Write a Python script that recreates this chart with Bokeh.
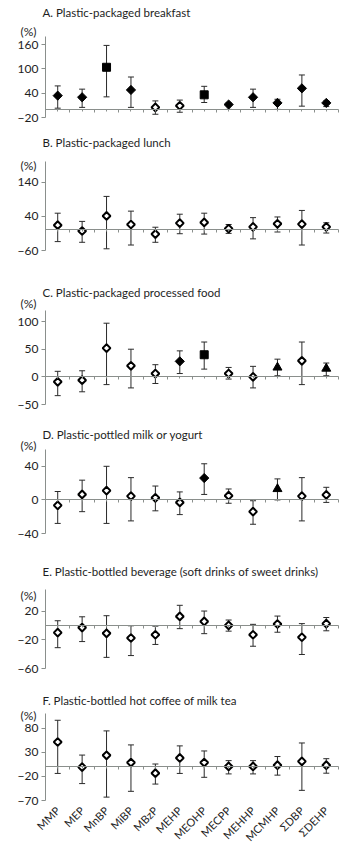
from math import pi
from bokeh.plotting import figure
from bokeh.models import ColumnDataSource, Whisker, TeeHead, FixedTicker, LinearAxis, Label, Range1d
from bokeh.layouts import column
from bokeh.embed import file_html
from bokeh.resources import INLINE

compounds = ["MMP", "MEP", "MnBP", "MiBP", "MBzP", "MEHP", "MEOHP", "MECPP",
             "MEHHP", "MCMHP", "ΣDBP", "ΣDEHP"]

panel_titles = [
    "A. Plastic-packaged breakfast",
    "B. Plastic-packaged lunch",
    "C. Plastic-packaged processed food",
    "D. Plastic-pottled milk or yogurt",
    "E. Plastic-bottled beverage (soft drinks of sweet drinks)",
    "F. Plastic-bottled hot coffee of milk tea",
]

# d = filled diamond, o = open diamond, s = filled square, t = filled triangle
A_est = [34, 30, 104, 48, 5, 9, 36, 12, 30, 16, 52, 16]
A_low = [3, 5, 31, 5, -12, -7, 17, 0, 5, 0, 8, 7]
A_up = [58, 50, 158, 80, 21, 23, 57, 16, 50, 25, 85, 21]
A_sym = ["d", "d", "s", "d", "o", "o", "s", "d", "d", "d", "d", "d"]
A_ticks = [-20, 40, 100, 160]

B_est = [14, -3, 41, 16, -12, 20, 22, 4, 9, 18, 17, 9]
B_low = [-34, -36, -55, -44, -36, -11, -12, -10, -26, -6, -44, -9]
B_up = [49, 25, 98, 55, 8, 46, 49, 16, 36, 38, 57, 21]
B_sym = ["o"] * 12
B_ticks = [-60, 40, 140]

C_est = [-9, -6, 52, 20, 6, 28, 40, 6, 0, 17, 29, 15]
C_low = [-34, -27, -14, -20, -12, 6, 14, -4, -20, 2, -14, 2]
C_up = [10, 11, 97, 50, 22, 47, 63, 17, 19, 32, 63, 25]
C_sym = ["o", "o", "o", "o", "o", "d", "s", "o", "o", "t", "o", "t"]
C_ticks = [-50, 0, 50, 100]

D_est = [-6.5, 6.5, 11, 4.5, 2.5, -3, 26, 5, -14, 13, 4.5, 6]
D_low = [-28, -14, -28, -25, -13, -17.5, 6.5, -4, -29, 0, -25, -3]
D_up = [10, 23.5, 40, 26.5, 16.5, 9.5, 43, 13, -1, 25, 26.5, 15]
D_sym = ["o", "o", "o", "o", "o", "o", "d", "o", "o", "t", "o", "o"]
D_ticks = [-40, 0, 40]

E_est = [-10, -3, -11, -17.5, -13, 12.5, 5.5, 0, -13, 2, -16.5, 2.5]
E_low = [-31, -22.5, -44.5, -42, -26.5, -4.5, -11.5, -8, -29, -9.5, -40.5, -7.5]
E_up = [6.5, 12, 13.5, -0.5, -1, 28, 20, 7.5, 1.5, 13, 2.5, 11]
E_sym = ["o"] * 12
E_ticks = [-60, -20, 20]

F_est = [51, -1, 23.5, 8.5, -13.5, 18, 8.5, 0.5, 0.5, 3, 11, 3]
F_low = [-14, -35, -63, -51, -36, -14, -22, -15, -15, -17.5, -49, -13.5]
F_up = [96, 24, 74, 45, 5.5, 43, 32.5, 12.5, 12.5, 21, 49, 16.5]
F_sym = ["o"] * 12
F_ticks = [-70, -20, 30, 80]

panels = [
    (A_est, A_low, A_up, A_sym, A_ticks),
    (B_est, B_low, B_up, B_sym, B_ticks),
    (C_est, C_low, C_up, C_sym, C_ticks),
    (D_est, D_low, D_up, D_sym, D_ticks),
    (E_est, E_low, E_up, E_sym, E_ticks),
    (F_est, F_low, F_up, F_sym, F_ticks),
]

# layout (pixels): (axis_min, axis_max, space_top, axis_h, space_bottom, title_y, pct_y)
layout = [
    (-20, 180, 36, 81, 11, 12, 31),
    (-60, 200, 33, 89, 20, 14, 37),
    (-50, 120, 40, 94, 11, 22, 33),
    (-40, 60, 34, 84, 17, 19, 30),
    (-60, 50, 39, 79, 12, 21, 45),
    (-70, 110, 33, 87, 47, 20, 35),
]

W = 352
LEFT = 45
RIGHT = 14
PLOT_W = W - LEFT - RIGHT
N = len(compounds)
UX = PLOT_W / N  # pixels per category
FONT = "Lato"
AXIS_COLOR = "#8a8f8c"
TEXT_COLOR = "#1e1e1e"

styles = {
    "d": dict(marker="square", angle=pi / 4, size=6.5, fill_color="black", line_color="black", line_width=1),
    "o": dict(marker="square", angle=pi / 4, size=5.5, fill_color="white", line_color="black", line_width=2),
    "s": dict(marker="square", angle=0, size=8, fill_color="black", line_color="black", line_width=1),
    "t": dict(marker="triangle", angle=0, size=9, fill_color="black", line_color="black", line_width=1),
}

figs = []
for k, ((est, low, up, sym, ticks), (y0, y1, bt, fh, bb, ty, py)) in enumerate(zip(panels, layout)):
    last = (k == len(panels) - 1)
    H = bt + fh + bb
    upp = (y1 - y0) / fh
    xr = Range1d(-LEFT / UX, N + RIGHT / UX)
    yr = Range1d(y0 - bb * upp, y1 + bt * upp)
    p = figure(width=W, height=H, x_range=xr, y_range=yr,
               output_backend="svg", toolbar_location=None, title=None,
               min_border_left=0, min_border_right=0,
               min_border_top=0, min_border_bottom=0)
    p.outline_line_color = None
    p.xgrid.visible = False
    p.ygrid.visible = False
    p.background_fill_color = "white"
    p.border_fill_color = "white"

    xs = [i + 0.5 for i in range(N)]
    src = ColumnDataSource(dict(x=xs, est=est, low=low, up=up))
    wh = Whisker(source=src, base="x", upper="up", lower="low",
                 line_color="#2a2a2a", line_width=1,
                 upper_head=TeeHead(size=6, line_color="#2a2a2a", line_width=1),
                 lower_head=TeeHead(size=6, line_color="#2a2a2a", line_width=1))
    p.add_layout(wh)

    for code, st in styles.items():
        idx = [i for i in range(N) if sym[i] == code]
        if not idx:
            continue
        s = ColumnDataSource(dict(x=[xs[i] for i in idx], y=[est[i] for i in idx]))
        p.scatter("x", "y", source=s, **st)

    # y axis, pinned at the left edge of the category span
    ya = p.yaxis[0]
    ya.fixed_location = 0
    ya.bounds = (y0, y1)
    ya.ticker = FixedTicker(ticks=ticks, minor_ticks=[])
    ya.axis_line_color = AXIS_COLOR
    ya.major_tick_line_color = AXIS_COLOR
    ya.major_tick_out = 4
    ya.major_tick_in = 0
    ya.major_label_standoff = 3
    ya.major_label_text_font = FONT
    ya.major_label_text_font_size = "12px"
    ya.major_label_text_color = TEXT_COLOR

    # zero line axis with category boundary ticks
    bounds = list(range(N + 1))
    xa = p.xaxis[0]
    xa.fixed_location = 0
    xa.bounds = (0, N)
    xa.ticker = FixedTicker(ticks=bounds, minor_ticks=xs)
    xa.major_label_overrides = {b: "" for b in bounds}
    xa.axis_line_color = AXIS_COLOR
    xa.major_tick_line_color = AXIS_COLOR
    xa.minor_tick_line_color = AXIS_COLOR
    xa.major_tick_out = 3
    xa.major_tick_in = 0
    xa.minor_tick_out = 2
    xa.minor_tick_in = 0

    if last:
        la = LinearAxis(fixed_location=y0,
                        ticker=FixedTicker(ticks=xs, minor_ticks=[]),
                        major_label_overrides={x: c for x, c in zip(xs, compounds)},
                        major_label_orientation=pi / 4,
                        axis_line_color=None, major_tick_line_color=None,
                        minor_tick_line_color=None,
                        major_label_standoff=2,
                        major_label_text_font=FONT,
                        major_label_text_font_size="11px",
                        major_label_text_color=TEXT_COLOR)
        p.add_layout(la, "below")

    def to_data(px, pyrel):
        return (px - LEFT) / UX, y1 + (bt - pyrel) * upp

    tx, tyd = to_data(42, ty)
    p.add_layout(Label(x=tx, y=tyd, text=panel_titles[k], text_font=FONT,
                       text_font_size="11.5px", text_color=TEXT_COLOR,
                       text_baseline="middle", text_align="left"))
    qx, qyd = to_data(20, py)
    p.add_layout(Label(x=qx, y=qyd, text="(%)", text_font=FONT,
                       text_font_size="12px", text_color=TEXT_COLOR,
                       text_baseline="middle", text_align="left"))
    figs.append(p)

layout_col = column(*figs, spacing=0)
open("out.html", "w").write(file_html(layout_col, INLINE))
